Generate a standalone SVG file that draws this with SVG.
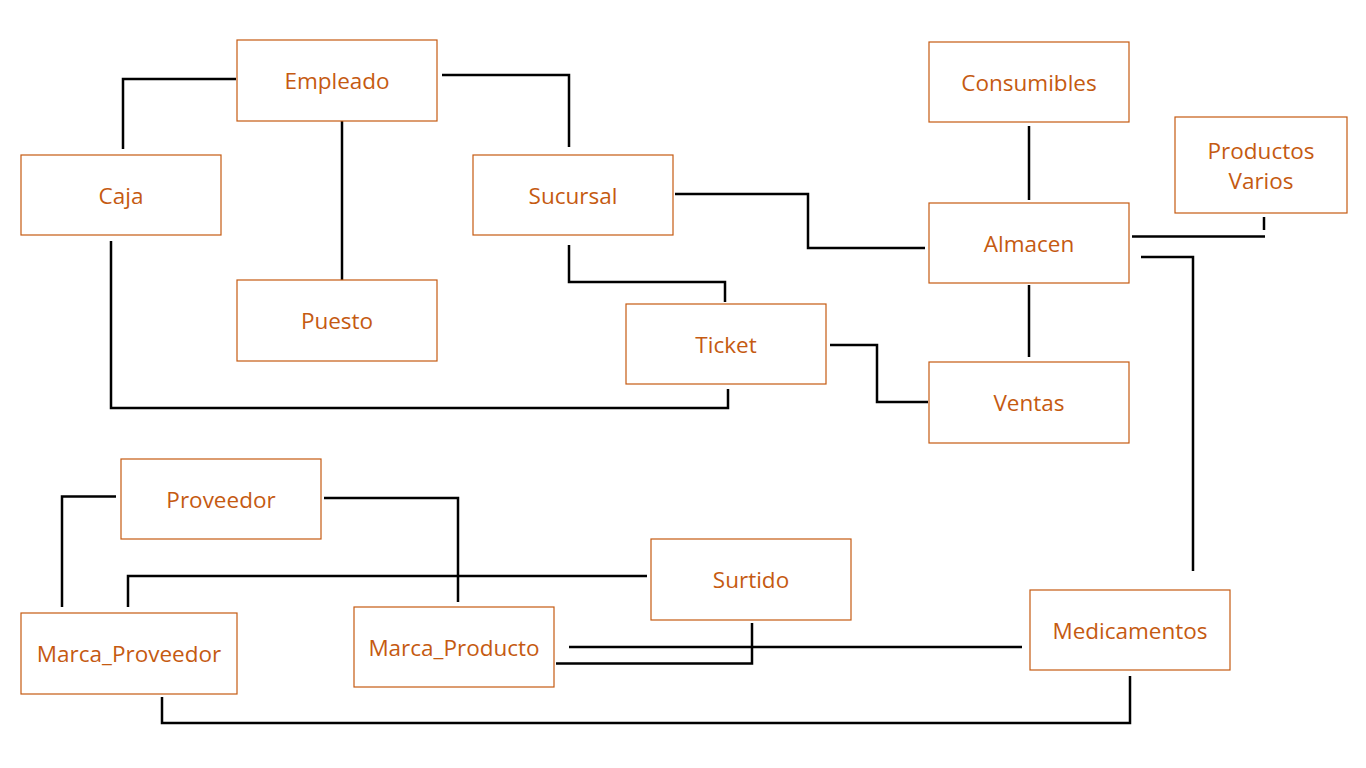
<svg xmlns="http://www.w3.org/2000/svg" width="1366" height="768" viewBox="0 0 1366 768">
<style>
.box{fill:#fff;stroke:#C55A11;stroke-width:1.2}
.lbl{font-family:"Open Sans","Liberation Sans",sans-serif;font-size:22.5px;fill:#C55A11;text-anchor:middle;dominant-baseline:central}
.c{fill:none;stroke:#000;stroke-width:2.5}
</style>
<rect width="1366" height="768" fill="#fff"/>
<g id="connectors">
<polyline class="c" points="236,79 123,79 123,149"/>
<polyline class="c" points="442,75 569,75 569,147"/>
<polyline class="c" points="342,119 342,283"/>
<polyline class="c" points="111,241 111,408 728,408 728,389"/>
<polyline class="c" points="569,245 569,282 725,282 725,302"/>
<polyline class="c" points="675,194 808,194 808,248 925,248"/>
<polyline class="c" points="1029,126 1029,200"/>
<polyline class="c" points="1132,236.5 1265,236.5"/>
<polyline class="c" points="1264,217 1264,230"/>
<polyline class="c" points="1141,257 1193,257 1193,571"/>
<polyline class="c" points="1029,285 1029,357"/>
<polyline class="c" points="830,345 877,345 877,402 928,402"/>
<polyline class="c" points="116,496.5 62,496.5 62,607"/>
<polyline class="c" points="324,498 458,498 458,602"/>
<polyline class="c" points="647,576 128,576 128,607"/>
<polyline class="c" points="752,623 752,663.5 556,663.5"/>
<polyline class="c" points="569,647 1022,647"/>
<polyline class="c" points="162,697 162,723 1130,723 1130,676"/>
</g>
<g id="empleado"><rect class="box" x="237" y="40" width="200" height="81"/><text class="lbl" x="337" y="80">Empleado</text></g>
<g id="caja"><rect class="box" x="21" y="155" width="200" height="80"/><text class="lbl" x="121" y="195">Caja</text></g>
<g id="sucursal"><rect class="box" x="473" y="155" width="200" height="80"/><text class="lbl" x="573" y="195">Sucursal</text></g>
<g id="puesto"><rect class="box" x="237" y="280" width="200" height="81"/><text class="lbl" x="337" y="320">Puesto</text></g>
<g id="ticket"><rect class="box" x="626" y="304" width="200" height="80"/><text class="lbl" x="726" y="344">Ticket</text></g>
<g id="consumibles"><rect class="box" x="929" y="42" width="200" height="80"/><text class="lbl" x="1029" y="82">Consumibles</text></g>
<g id="productos-varios"><rect class="box" x="1175" y="117" width="172" height="96"/><text class="lbl" x="1261" y="150">Productos</text><text class="lbl" x="1261" y="180">Varios</text></g>
<g id="almacen"><rect class="box" x="929" y="203" width="200" height="80"/><text class="lbl" x="1029" y="243">Almacen</text></g>
<g id="ventas"><rect class="box" x="929" y="362" width="200" height="81"/><text class="lbl" x="1029" y="402">Ventas</text></g>
<g id="proveedor"><rect class="box" x="121" y="459" width="200" height="80"/><text class="lbl" x="221" y="499">Proveedor</text></g>
<g id="surtido"><rect class="box" x="651" y="539" width="200" height="81"/><text class="lbl" x="751" y="579">Surtido</text></g>
<g id="marca-proveedor"><rect class="box" x="21" y="613" width="216" height="81"/><text class="lbl" x="129" y="653">Marca_Proveedor</text></g>
<g id="marca-producto"><rect class="box" x="354" y="607" width="200" height="80"/><text class="lbl" x="454" y="647">Marca_Producto</text></g>
<g id="medicamentos"><rect class="box" x="1030" y="590" width="200" height="80"/><text class="lbl" x="1130" y="630">Medicamentos</text></g>
</svg>
